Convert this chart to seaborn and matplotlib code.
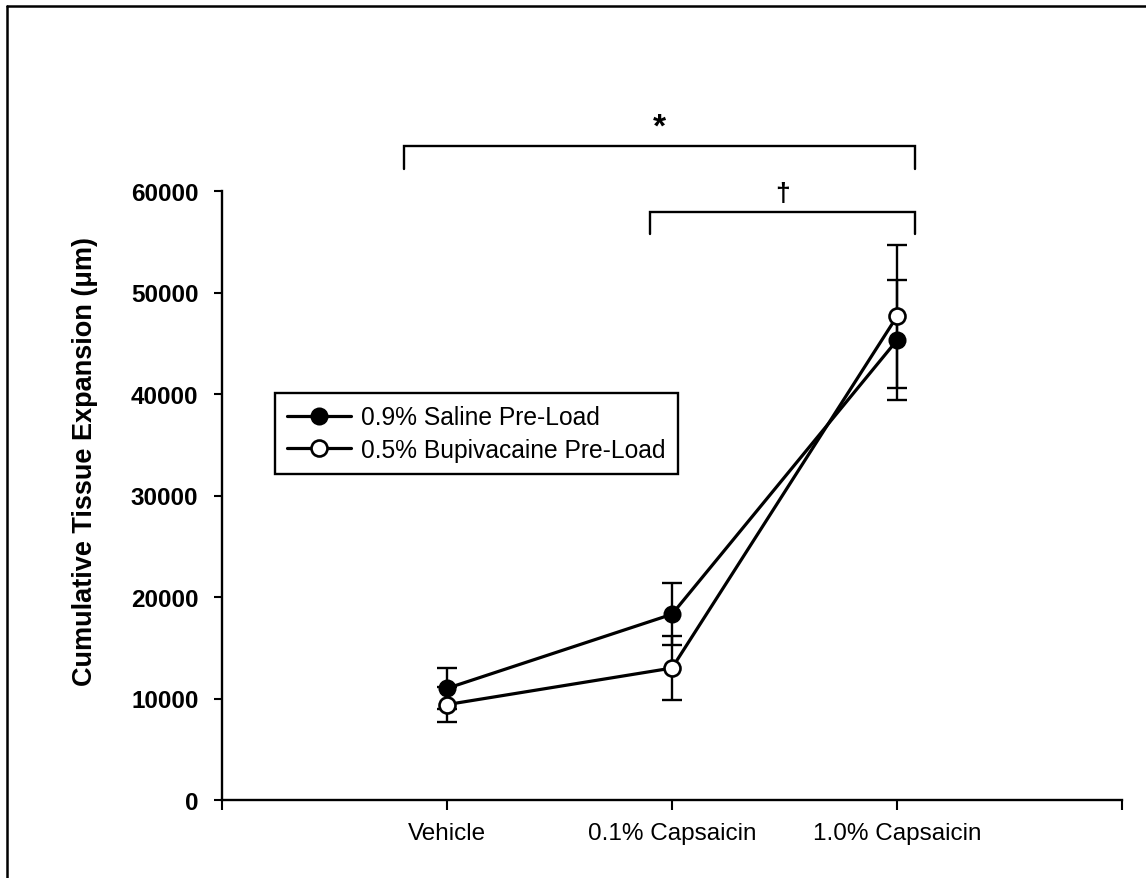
import numpy as np
import pandas as pd
import matplotlib
matplotlib.use("Agg")
import matplotlib.pyplot as plt
from matplotlib.lines import Line2D
import seaborn as sns

# ---- data ----
categories = ["Vehicle", "0.1% Capsaicin", "1.0% Capsaicin"]
saline_mean = [11000, 18300, 45300]
saline_se = [2000, 3050, 5900]
bupi_mean = [9400, 13000, 47650]
bupi_se = [1700, 3150, 7050]
series_labels = ["0.9% Saline Pre-Load", "0.5% Bupivacaine Pre-Load"]
y_ticks = [0, 10000, 20000, 30000, 40000, 50000, 60000]
y_label = "Cumulative Tissue Expansion (\u03bcm)"
sig_outer_label = "*"
sig_inner_label = "\u2020"

sns.set_style("ticks")
plt.rcParams["font.family"] = ["Liberation Sans", "DejaVu Sans"]
plt.rcParams["text.color"] = "black"
plt.rcParams["axes.labelcolor"] = "black"
plt.rcParams["xtick.color"] = "black"
plt.rcParams["ytick.color"] = "black"

fig = plt.figure(figsize=(11.46, 8.79), dpi=100)
ax = fig.add_axes([222 / 1146, 78 / 879, 900 / 1146, 609 / 879])

xpos = np.arange(1, len(categories) + 1)
df = pd.DataFrame({
    "x": np.concatenate([xpos, xpos]),
    "y": saline_mean + bupi_mean,
    "group": [series_labels[0]] * 3 + [series_labels[1]] * 3,
})

# error bars (behind markers)
ax.errorbar(xpos, saline_mean, yerr=saline_se, fmt="none", ecolor="black",
            elinewidth=1.7, capsize=7, capthick=1.7, zorder=2)
ax.errorbar(xpos, bupi_mean, yerr=bupi_se, fmt="none", ecolor="black",
            elinewidth=1.7, capsize=7, capthick=1.7, zorder=2)

sns.lineplot(data=df[df.group == series_labels[0]], x="x", y="y", ax=ax,
             color="black", linewidth=2.3, marker="o", markersize=11.5,
             markerfacecolor="black", markeredgecolor="black",
             markeredgewidth=1.5, label=series_labels[0], zorder=3)
sns.lineplot(data=df[df.group == series_labels[1]], x="x", y="y", ax=ax,
             color="black", linewidth=2.3, marker="o", markersize=11.5,
             markerfacecolor="white", markeredgecolor="black",
             markeredgewidth=1.9, label=series_labels[1], zorder=4)

ax.set_xlim(0, 4)
ax.set_ylim(0, 60000)
ax.set_xticks([0, 1, 2, 3, 4])
ax.set_xticklabels([""] + categories + [""], fontsize=17.5)
ax.set_yticks(y_ticks)
ax.set_yticklabels([str(v) for v in y_ticks], fontsize=17.5, fontweight="bold")
ax.set_xlabel("")
ax.set_ylabel(y_label, fontsize=19.5, fontweight="bold")
ax.yaxis.set_label_coords(-0.138, 0.558)
ax.tick_params(axis="x", direction="out", length=7, width=1.5, pad=9)
ax.tick_params(axis="y", direction="out", length=6, width=1.5, pad=11)
for s in ["top", "right"]:
    ax.spines[s].set_visible(False)
for s in ["left", "bottom"]:
    ax.spines[s].set_linewidth(1.7)
    ax.spines[s].set_color("black")

leg = ax.legend(loc="upper left", bbox_to_anchor=(0.059, 0.668),
                borderaxespad=0, frameon=True, fancybox=False, fontsize=17.7,
                handlelength=2.6, handletextpad=0.4, labelspacing=0.35,
                borderpad=0.5)
leg.get_frame().set_edgecolor("black")
leg.get_frame().set_linewidth(1.7)
leg.get_frame().set_alpha(1)

# significance brackets
def bracket(x0, x1, y, drop, text, ty, size):
    ax.plot([x0, x0, x1, x1], [y - drop, y, y, y - drop], color="black",
            linewidth=1.7, clip_on=False, solid_joinstyle="miter")
    ax.text((x0 + x1) / 2, ty, text, ha="center", va="center",
            fontsize=size, fontweight="bold", color="black", clip_on=False)

bracket(0.81, 3.08, 64400, 2200, sig_outer_label, 66300, 24)
bracket(1.90, 3.08, 57900, 2150, sig_inner_label, 59800, 19)

# figure frame (left and top edges only, like the scan)
fig.add_artist(Line2D([7 / 1146, 7 / 1146], [0, 1 - 7 / 879],
                      transform=fig.transFigure, color="black", linewidth=1.8))
fig.add_artist(Line2D([7 / 1146, 1], [1 - 7 / 879, 1 - 7 / 879],
                      transform=fig.transFigure, color="black", linewidth=1.8))

fig.savefig("out.png", dpi=100, facecolor="white")
